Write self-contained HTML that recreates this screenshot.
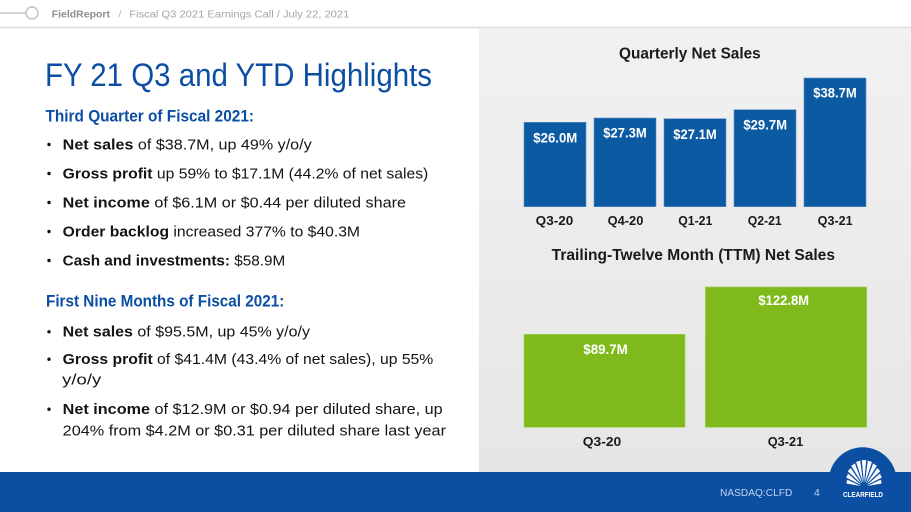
<!DOCTYPE html>
<html><head><meta charset="utf-8">
<style>
html,body{margin:0;padding:0;background:#fff;}
svg{display:block;}
text{font-family:"Liberation Sans",Arial,sans-serif;}
</style></head>
<body>
<svg width="911" height="512" viewBox="0 0 911 512" xmlns="http://www.w3.org/2000/svg">
<defs>
<linearGradient id="pg" x1="0" y1="0" x2="0" y2="1">
<stop offset="0" stop-color="#f1f1f1"/>
<stop offset="1" stop-color="#e6e6e6"/>
</linearGradient>
</defs>
<rect x="0" y="0" width="911" height="512" fill="#ffffff"/>
<!-- header -->
<line x1="0" y1="13" x2="26" y2="13" stroke="#c4c4c4" stroke-width="1.4"/>
<circle cx="32" cy="13" r="6" fill="#fff" stroke="#c0c0c0" stroke-width="1.4"/>
<text x="51.7" y="17.5" font-size="10" font-weight="bold" fill="#8e8e8e" textLength="58.3" lengthAdjust="spacingAndGlyphs">FieldReport</text>
<text x="118.5" y="17.5" font-size="10" fill="#b0b0b0">/</text>
<text x="129.3" y="17.5" font-size="10" fill="#a6a6a6" textLength="220" lengthAdjust="spacingAndGlyphs">Fiscal Q3 2021 Earnings Call / July 22, 2021</text>
<line x1="0" y1="27.5" x2="911" y2="27.5" stroke="#dedede" stroke-width="1.5"/>
<!-- right panel -->
<rect x="479" y="28.3" width="432" height="444" fill="url(#pg)"/>
<!-- title -->
<text x="45" y="86" font-size="32" fill="#0b4ea2" textLength="387" lengthAdjust="spacingAndGlyphs">FY 21 Q3 and YTD Highlights</text>
<text x="45.5" y="121.5" font-size="17" font-weight="bold" fill="#0b4ea2" textLength="208.5" lengthAdjust="spacingAndGlyphs">Third Quarter of Fiscal 2021:</text>
<g fill="#141414" font-size="14.5">
<circle cx="49" cy="144.5" r="1.7"/>
<text x="62.7" y="149.3" textLength="249" lengthAdjust="spacingAndGlyphs"><tspan font-weight="bold">Net sales</tspan> of $38.7M, up 49% y/o/y</text>
<circle cx="49" cy="173.5" r="1.7"/>
<text x="62.7" y="178.3" textLength="365.6" lengthAdjust="spacingAndGlyphs"><tspan font-weight="bold">Gross profit</tspan> up 59% to $17.1M (44.2% of net sales)</text>
<circle cx="49" cy="202.5" r="1.7"/>
<text x="62.7" y="207.3" textLength="343.3" lengthAdjust="spacingAndGlyphs"><tspan font-weight="bold">Net income</tspan> of $6.1M or $0.44 per diluted share</text>
<circle cx="49" cy="231.5" r="1.7"/>
<text x="62.7" y="236.3" textLength="297.3" lengthAdjust="spacingAndGlyphs"><tspan font-weight="bold">Order backlog</tspan> increased 377% to $40.3M</text>
<circle cx="49" cy="260.5" r="1.7"/>
<text x="62.7" y="265.3" textLength="222.6" lengthAdjust="spacingAndGlyphs"><tspan font-weight="bold">Cash and investments:</tspan> $58.9M</text>
</g>
<text x="46" y="306.7" font-size="17" font-weight="bold" fill="#0b4ea2" textLength="238.3" lengthAdjust="spacingAndGlyphs">First Nine Months of Fiscal 2021:</text>
<g fill="#141414" font-size="14.5">
<circle cx="49" cy="331.8" r="1.7"/>
<text x="62.7" y="336.7" textLength="247.3" lengthAdjust="spacingAndGlyphs"><tspan font-weight="bold">Net sales</tspan> of $95.5M, up 45% y/o/y</text>
<circle cx="49" cy="359.2" r="1.7"/>
<text x="62.7" y="364" textLength="370.6" lengthAdjust="spacingAndGlyphs"><tspan font-weight="bold">Gross profit</tspan> of $41.4M (43.4% of net sales), up 55%</text>
<text x="62.2" y="384.3" textLength="39" lengthAdjust="spacingAndGlyphs">y/o/y</text>
<circle cx="49" cy="409.2" r="1.7"/>
<text x="62.7" y="414.2" textLength="380" lengthAdjust="spacingAndGlyphs"><tspan font-weight="bold">Net income</tspan> of $12.9M or $0.94 per diluted share, up</text>
<text x="62.7" y="435.3" textLength="383.3" lengthAdjust="spacingAndGlyphs">204% from $4.2M or $0.31 per diluted share last year</text>
</g>
<!-- Quarterly chart -->
<text x="619" y="58.3" font-size="15.5" font-weight="bold" fill="#1a1a1a" textLength="141.7" lengthAdjust="spacingAndGlyphs">Quarterly Net Sales</text>
<g fill="#0c5aa2" stroke="#5d8fc4" stroke-width="0.6">
<rect x="524" y="122.3" width="62" height="84.4"/>
<rect x="594" y="118" width="62" height="88.7"/>
<rect x="664" y="118.7" width="62" height="88"/>
<rect x="734" y="109.7" width="62" height="97"/>
<rect x="804" y="78" width="62" height="128.7"/>
</g>
<g fill="#ffffff" font-size="13.5" font-weight="bold" text-anchor="middle">
<text x="555.3" y="142.7" textLength="44" lengthAdjust="spacingAndGlyphs">$26.0M</text>
<text x="625" y="137.7" textLength="43.4" lengthAdjust="spacingAndGlyphs">$27.3M</text>
<text x="695" y="139" textLength="43.4" lengthAdjust="spacingAndGlyphs">$27.1M</text>
<text x="765.2" y="129.3" textLength="43.7" lengthAdjust="spacingAndGlyphs">$29.7M</text>
<text x="835" y="97.7" textLength="43.4" lengthAdjust="spacingAndGlyphs">$38.7M</text>
</g>
<g fill="#1a1a1a" font-size="12.5" font-weight="bold" text-anchor="middle">
<text x="554.5" y="225" textLength="37.6" lengthAdjust="spacingAndGlyphs">Q3-20</text>
<text x="625.5" y="225" textLength="35.7" lengthAdjust="spacingAndGlyphs">Q4-20</text>
<text x="695.3" y="225" textLength="34" lengthAdjust="spacingAndGlyphs">Q1-21</text>
<text x="764.7" y="225" textLength="34" lengthAdjust="spacingAndGlyphs">Q2-21</text>
<text x="835.2" y="225" textLength="35" lengthAdjust="spacingAndGlyphs">Q3-21</text>
</g>
<!-- TTM chart -->
<text x="551.7" y="260" font-size="15.5" font-weight="bold" fill="#1a1a1a" textLength="283.3" lengthAdjust="spacingAndGlyphs">Trailing-Twelve Month (TTM) Net Sales</text>
<g fill="#80b91c" stroke="#a6d05a" stroke-width="0.6">
<rect x="524" y="334.3" width="161" height="93"/>
<rect x="705.3" y="287" width="161.4" height="140.3"/>
</g>
<g fill="#ffffff" font-size="13.5" font-weight="bold" text-anchor="middle">
<text x="605.5" y="354" textLength="44.4" lengthAdjust="spacingAndGlyphs">$89.7M</text>
<text x="783.7" y="305" textLength="50.7" lengthAdjust="spacingAndGlyphs">$122.8M</text>
</g>
<g fill="#1a1a1a" font-size="13" font-weight="bold" text-anchor="middle">
<text x="602" y="446" textLength="38.5" lengthAdjust="spacingAndGlyphs">Q3-20</text>
<text x="785.5" y="446" textLength="35.5" lengthAdjust="spacingAndGlyphs">Q3-21</text>
</g>
<!-- footer -->
<rect x="0" y="472" width="911" height="40" fill="#0b4ea2"/>
<circle cx="862.7" cy="481.3" r="34" fill="#0b4ea2"/>
<text x="720" y="495.8" font-size="10.5" fill="#c5d3ea" textLength="72.3" lengthAdjust="spacingAndGlyphs">NASDAQ:CLFD</text>
<text x="814" y="495.8" font-size="10.5" fill="#c5d3ea">4</text>
<g fill="#ffffff" transform="translate(864,487) scale(0.85,1) translate(-864,-487)">
<polygon points="864,483 861.41,460.12 866.59,460.12"/>
<polygon points="865.04,483.14 868.41,460.64 873.36,461.96"/>
<polygon points="866,483.54 874.75,463.40 879.06,465.89"/>
<polygon points="866.83,484.17 879.69,467.97 883.03,471.31"/>
<polygon points="867.46,485 882.72,473.64 884.93,477.46"/>
<polygon points="867.86,485.96 883.74,479.62 884.78,483.52"/>
<polygon points="862.96,483.14 859.59,460.64 854.64,461.96"/>
<polygon points="862,483.54 853.25,463.40 848.94,465.89"/>
<polygon points="861.17,484.17 848.31,467.97 844.97,471.31"/>
<polygon points="860.54,485 845.28,473.64 843.07,477.46"/>
<polygon points="860.14,485.96 844.26,479.62 843.22,483.52"/>
</g>
<text x="843" y="497" font-size="7.6" font-weight="bold" fill="#ffffff" textLength="40" lengthAdjust="spacingAndGlyphs">CLEARFIELD</text>
</svg>
</body></html>
